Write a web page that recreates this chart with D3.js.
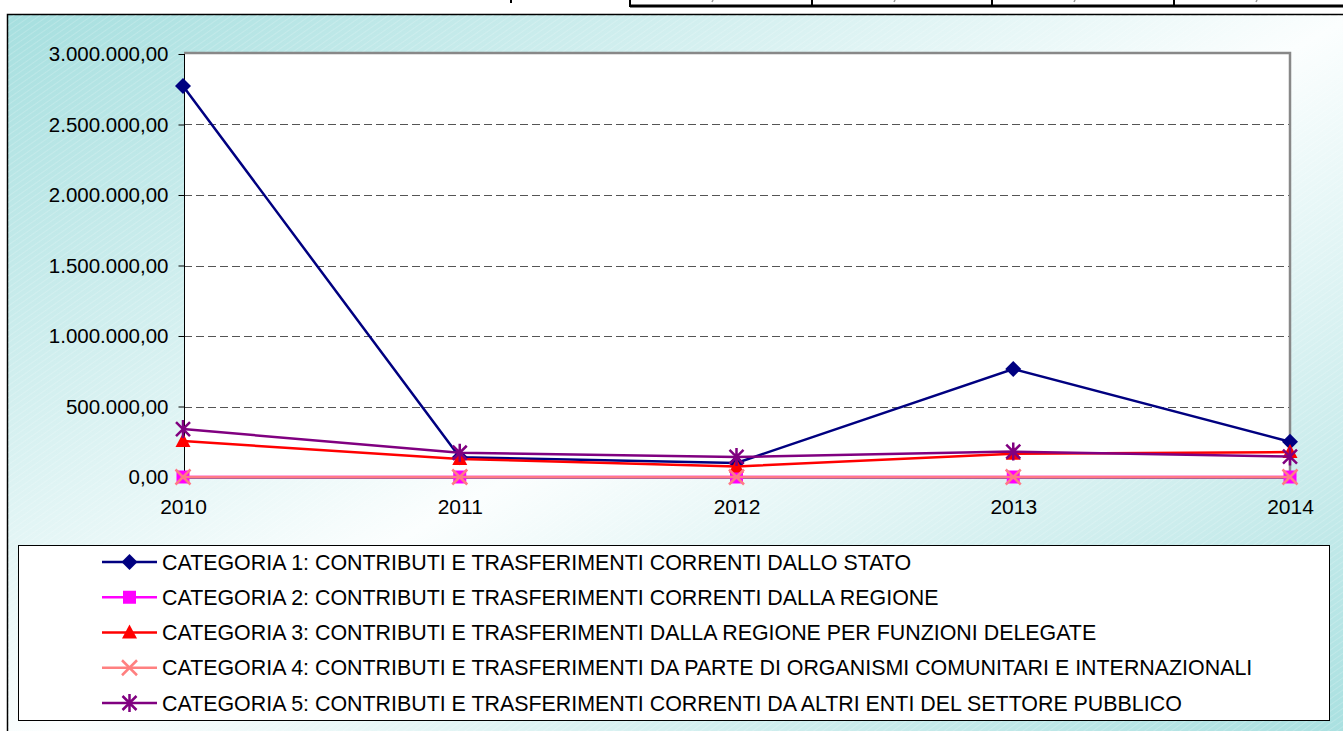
<!DOCTYPE html>
<html>
<head>
<meta charset="utf-8">
<script src="https://cdn.jsdelivr.net/npm/d3@7"></script>
<style>
  body { margin: 0; background: #fff; }
  svg text { font-family: "Liberation Sans", Arial, sans-serif; fill: #000; }
</style>
</head>
<body>
<div id="chart-area"></div>
<script>
// chart data
var years = ["2010", "2011", "2012", "2013", "2014"];
var seriesNames = [
    "CATEGORIA 1: CONTRIBUTI E TRASFERIMENTI CORRENTI DALLO STATO",
    "CATEGORIA 2: CONTRIBUTI E TRASFERIMENTI CORRENTI DALLA REGIONE",
    "CATEGORIA 3: CONTRIBUTI E TRASFERIMENTI DALLA REGIONE PER FUNZIONI DELEGATE",
    "CATEGORIA 4: CONTRIBUTI E TRASFERIMENTI DA PARTE DI ORGANISMI COMUNITARI E INTERNAZIONALI",
    "CATEGORIA 5: CONTRIBUTI E TRASFERIMENTI CORRENTI DA ALTRI ENTI DEL SETTORE PUBBLICO"
];
var cat1 = [2773000, 140000, 100000, 766000, 250000];
var cat2 = [0, 0, 0, 0, 0];
var cat3 = [255000, 128000, 75000, 165000, 177000];
var cat4 = [0, 0, 0, 0, 0];
var cat5 = [340000, 172000, 142000, 180000, 145000];
var yTicks = [0, 500000, 1000000, 1500000, 2000000, 2500000, 3000000];

var colors = ["#000080", "#ff00ff", "#ff0000", "#ff7a86", "#800080"];
var markers = ["diamond", "square", "triangle", "cross", "star"];
var allSeries = [cat1, cat2, cat3, cat4, cat5];

var width = 1343, height = 731;
var plot = {left: 184, top: 54, right: 1290, bottom: 477};

var svg = d3.select("#chart-area").append("svg")
    .attr("width", width)
    .attr("height", height);

var defs = svg.append("defs");
var grad = defs.append("linearGradient")
    .attr("id", "bg")
    .attr("x1", 0).attr("y1", 0).attr("x2", 1).attr("y2", 1);
grad.append("stop").attr("offset", "0").attr("stop-color", "#a6dfdf");
grad.append("stop").attr("offset", "0.5").attr("stop-color", "#fbfefe");
grad.append("stop").attr("offset", "1").attr("stop-color", "#a6dfdf");

var hatch = defs.append("pattern")
    .attr("id", "hatch")
    .attr("patternUnits", "userSpaceOnUse")
    .attr("width", 5).attr("height", 5)
    .attr("patternTransform", "rotate(-35)");
hatch.append("line")
    .attr("x1", 0).attr("y1", 0).attr("x2", 5).attr("y2", 0)
    .attr("stroke", "#fff").attr("stroke-width", 1).attr("stroke-opacity", 0.35);

// cut-off table row above the chart (only the bottom of its glyphs shows)
var table = svg.append("g");
table.append("path").attr("d", "M511,0V3").attr("stroke", "#000").attr("stroke-width", 2);
var cellX = [630, 812, 992, 1174];
cellX.forEach(function(cx) {
    table.append("line").attr("x1", cx).attr("x2", cx).attr("y1", 0).attr("y2", 7)
        .attr("stroke", "#000").attr("stroke-width", 2);
    table.append("path").attr("d", "M" + (cx + 83) + ",0L" + (cx + 82) + ",2")
        .attr("stroke", "#999").attr("stroke-width", 1.5);
});
table.append("line").attr("x1", 630).attr("x2", width).attr("y1", 6).attr("y2", 6)
    .attr("stroke", "#000").attr("stroke-width", 3);

// chart frame
svg.append("rect")
    .attr("x", 7.5).attr("y", 14.5)
    .attr("width", 1350).attr("height", 740)
    .attr("fill", "url(#bg)").attr("stroke", "#000").attr("stroke-width", 1.5);
svg.append("rect")
    .attr("x", 8).attr("y", 15)
    .attr("width", 1350).attr("height", 740)
    .attr("fill", "url(#hatch)");

var x = d3.scalePoint().domain(years).range([plot.left - 1, plot.right]);
var y = d3.scaleLinear().domain([0, 3000000]).range([plot.bottom, plot.top]);

var it = d3.formatLocale({decimal: ",", thousands: ".", grouping: [3], currency: ["", "€"]});
var fmt = it.format(",.2f");

// plot area
svg.append("rect")
    .attr("x", plot.left).attr("y", plot.top)
    .attr("width", plot.right - plot.left).attr("height", plot.bottom - plot.top)
    .attr("fill", "#fff");

// grid lines
svg.append("g").selectAll("line")
    .data(yTicks.filter(function(d) { return d > 0 && d < 3000000; }))
    .enter().append("line")
    .attr("x1", plot.left).attr("x2", plot.right)
    .attr("y1", function(d) { return Math.round(y(d)) + 0.5; })
    .attr("y2", function(d) { return Math.round(y(d)) + 0.5; })
    .attr("stroke", "#555").attr("stroke-width", 1)
    .attr("stroke-dasharray", "8,4");

// plot area border (gray top and right)
svg.append("path")
    .attr("d", "M" + plot.left + "," + (plot.top - 1) + "H" + plot.right + "V" + plot.bottom)
    .attr("fill", "none").attr("stroke", "#888").attr("stroke-width", 2.5);

// y axis
var yAxis = svg.append("g")
    .attr("transform", "translate(" + (plot.left + 0.5) + ",0)")
    .call(d3.axisLeft(y).tickValues(yTicks).tickFormat(fmt).tickSize(6).tickPadding(10));
yAxis.select(".domain").attr("stroke", "#000").attr("d", "M0," + plot.top + "V" + plot.bottom);
yAxis.selectAll("text").style("font-size", "20.5px").attr("font-family", null);

// x axis
var xAxis = svg.append("g")
    .attr("transform", "translate(0," + (plot.bottom + 0.5) + ")")
    .call(d3.axisBottom(x).tickSize(0).tickPadding(22));
xAxis.select(".domain").attr("stroke", "#000");
xAxis.selectAll("text").style("font-size", "21px").attr("font-family", null);

// marker shapes
function marker(sel, type, color) {
    if (type == "diamond") {
        sel.append("path").attr("d", "M0,-8L8,0L0,8L-8,0Z").attr("fill", color);
    } else if (type == "square") {
        sel.append("rect").attr("x", -6.5).attr("y", -6.5).attr("width", 13).attr("height", 13).attr("fill", color);
    } else if (type == "triangle") {
        sel.append("path").attr("d", "M0,-8L7.5,6L-7.5,6Z").attr("fill", color);
    } else if (type == "cross") {
        sel.append("path").attr("d", "M-7.5,-7.5L7.5,7.5M-7.5,7.5L7.5,-7.5")
            .attr("stroke", color).attr("stroke-width", 2.5).attr("fill", "none");
    } else {
        sel.append("path").attr("d", "M-7,-7L7,7M-7,7L7,-7M0,-9V9")
            .attr("stroke", color).attr("stroke-width", 2.5).attr("fill", "none");
    }
}

var line = d3.line()
    .x(function(d, i) { return x(years[i]); })
    .y(function(d) { return y(d); });

allSeries.forEach(function(vals, s) {
    var g = svg.append("g");
    g.append("path")
        .attr("d", line(vals))
        .attr("fill", "none")
        .attr("stroke", colors[s])
        .attr("stroke-width", 2.5);
    g.selectAll("g.pt")
        .data(vals)
        .enter().append("g")
        .attr("class", "pt")
        .attr("transform", function(d, i) { return "translate(" + x(years[i]) + "," + y(d) + ")"; })
        .each(function() { marker(d3.select(this), markers[s], colors[s]); });
});

// legend
var legend = svg.append("g");
legend.append("rect")
    .attr("x", 18.5).attr("y", 545.5)
    .attr("width", 1311).attr("height", 175)
    .attr("fill", "#fff").attr("stroke", "#000").attr("stroke-width", 1);

var rowY = d3.scalePoint().domain(d3.range(seriesNames.length)).range([562, 703]);
seriesNames.forEach(function(name, s) {
    var r = legend.append("g").attr("transform", "translate(0," + rowY(s) + ")");
    r.append("line").attr("x1", 102).attr("x2", 157).attr("y1", 0).attr("y2", 0)
        .attr("stroke", s == 3 ? "#ff8080" : colors[s]).attr("stroke-width", 2.5);
    marker(r.append("g").attr("transform", "translate(129.5,0)"), markers[s], s == 3 ? "#ff8080" : colors[s]);
    r.append("text").attr("x", 162).attr("y", 0).attr("dy", "0.36em")
        .style("font-size", "21.4px").text(name);
});
</script>
</body>
</html>
